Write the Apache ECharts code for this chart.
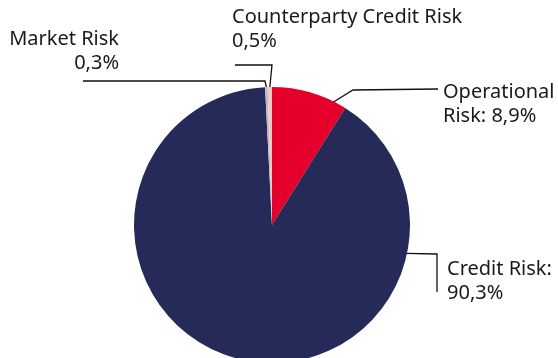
<!DOCTYPE html>
<html>
<head>
<meta charset="utf-8">
<script src="https://cdn.jsdelivr.net/npm/echarts@6/dist/echarts.min.js"></script>
<style>
  html, body { margin: 0; padding: 0; background: #fff; }
  #chart { width: 558px; height: 358px; }
</style>
</head>
<body>
<div id="chart"></div>
<script>
// slice data, clockwise from 12 o'clock
var names = ['Operational Risk', 'Credit Risk', 'Market Risk', 'Counterparty Credit Risk'];
var values = [8.9, 90.3, 0.3, 0.5];
var labelTexts = ['Operational\nRisk: 8,9%', 'Credit Risk:\n90,3%', 'Market Risk\n0,3%', 'Counterparty Credit Risk\n0,5%'];
var colors = ['#e4002b', '#262a58', '#b9b9cf', '#f6c9bf'];

var cx = 272, cy = 225, R = 138;

// point on the pie at angle (deg clockwise from top) and radius fraction
function onPie(deg, f) {
  var a = deg * Math.PI / 180;
  return [cx + R * f * Math.sin(a), cy - R * f * Math.cos(a)];
}

// where each label sits and how its leader line bends
var labelSpots = [
  { x: 443, y: 80, align: 'left', start: onPie(24, 0.93), bend: [[353, 90], [438, 89]] },
  { x: 447, y: 257, align: 'left', start: onPie(102, 0.99), bend: [[437, 254], [437, 292]] },
  { x: 119, y: 27, align: 'right', start: null, bend: [[265, 81], [83, 81]] },
  { x: 232, y: 5, align: 'left', start: null, bend: [[272, 65], [235, 65]] }
];

var chart = echarts.init(document.getElementById('chart'));

var option = {
  animation: false,
  series: [{
    type: 'pie',
    center: [cx, cy],
    radius: [0, R],
    startAngle: 90,
    clockwise: true,
    avoidLabelOverlap: false,
    data: names.map(function (n, i) {
      return { name: n, value: values[i], itemStyle: { color: colors[i] } };
    }),
    label: {
      show: true,
      formatter: function (p) { return labelTexts[p.dataIndex]; },
      fontFamily: 'Noto Sans',
      fontSize: 20,
      lineHeight: 24,
      color: '#1a1a1a'
    },
    labelLine: {
      show: true,
      lineStyle: { color: '#111', width: 1.3 }
    },
    labelLayout: function (params) {
      var s = labelSpots[params.dataIndex];
      var p0 = s.start || params.labelLinePoints[0];
      return {
        x: s.x,
        y: s.y,
        align: s.align,
        verticalAlign: 'top',
        labelLinePoints: [p0].concat(s.bend)
      };
    }
  }]
};

chart.setOption(option);
</script>
</body>
</html>
